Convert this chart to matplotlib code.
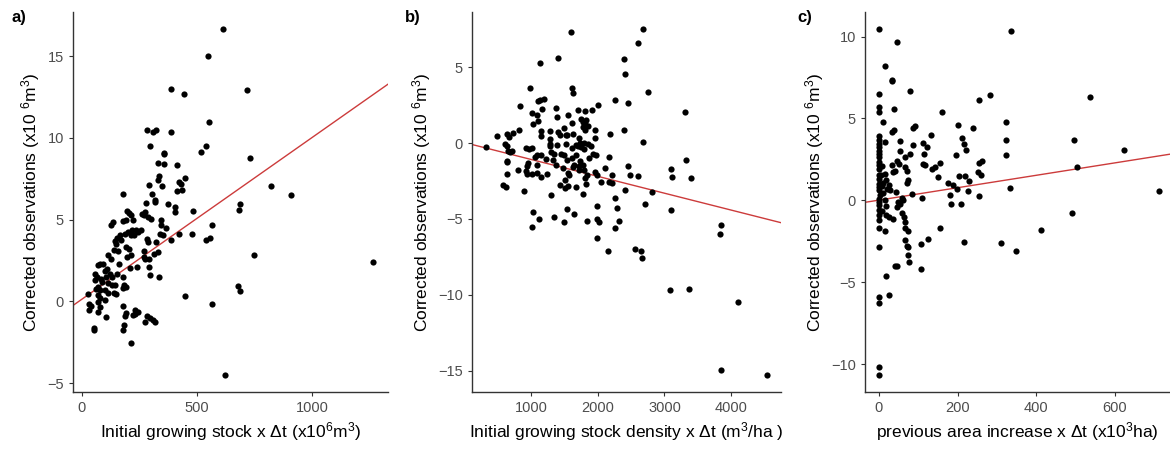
import matplotlib
matplotlib.use("Agg")
import matplotlib.pyplot as plt
import numpy as np

plt.rcParams['font.family'] = ['Liberation Sans', 'DejaVu Sans']
plt.rcParams['mathtext.fontset'] = 'custom'
plt.rcParams['mathtext.rm'] = 'Liberation Sans'
plt.rcParams['mathtext.it'] = 'Liberation Sans:italic'

# panel a: initial growing stock x dt vs corrected observations
a_x = [613, 548, 385, 443, 717, 552, 284, 323, 310, 388, 296, 519, 539, 358, 355,
       329, 355, 413, 732, 333, 329, 448, 420, 429, 413, 433, 348, 290, 306, 178,
       316, 316, 280, 820, 909, 688, 683, 374, 406, 403, 483, 197, 203, 213, 220,
       190, 177, 272, 268, 287, 300, 261, 342, 345, 135, 128, 567, 364, 219, 235,
       242, 257, 200, 186, 212, 228, 341, 351, 423, 480, 165, 152, 171, 539, 558,
       386, 283, 287, 322, 143, 148, 193, 204, 138, 157, 271, 329, 314, 748, 113,
       128, 196, 212, 268, 275, 291, 77, 68, 90, 1265, 161, 207, 239, 290, 109,
       99, 123, 130, 154, 178, 55, 65, 58, 81, 88, 103, 112, 294, 336, 132,
       145, 183, 191, 178, 71, 61, 80, 99, 114, 138, 146, 26, 680, 686, 446,
       68, 80, 32, 39, 29, 68, 77, 70, 99, 565, 178, 230, 242, 229, 191,
       188, 220, 106, 284, 296, 310, 272, 184, 178, 54, 51, 212, 620, 316]
a_y = [16.65, 15.0, 13.0, 12.67, 12.94, 10.94, 10.45, 10.5, 10.33, 10.35, 9.51, 9.12, 9.49, 9.08, 9.0,
       8.49, 8.37, 8.33, 8.76, 7.67, 7.41, 7.55, 7.31, 7.2, 6.73, 6.8, 7.04, 7.14, 6.59, 6.59,
       6.22, 6.06, 6.04, 7.06, 6.51, 5.96, 5.61, 5.94, 5.76, 5.45, 5.53, 5.53, 5.41, 5.27, 4.96,
       4.96, 4.9, 5.47, 5.31, 5.16, 5.06, 5.37, 4.98, 4.65, 4.88, 4.65, 4.65, 4.49, 4.35, 4.35,
       4.24, 4.35, 4.24, 4.14, 4.04, 4.08, 4.14, 4.04, 4.14, 4.12, 4.04, 3.88, 3.73, 3.73, 3.88,
       3.73, 3.84, 3.61, 3.63, 3.69, 3.49, 3.33, 3.22, 3.12, 3.08, 3.08, 3.02, 2.92, 2.86, 2.82,
       2.61, 2.71, 2.82, 2.71, 2.61, 2.57, 2.31, 2.24, 2.31, 2.43, 2.31, 2.04, 2.1, 2.1, 2.0,
       1.86, 1.69, 1.49, 1.65, 1.49, 1.65, 1.49, 1.33, 1.39, 1.16, 1.47, 1.12, 1.59, 1.49, 0.98,
       0.98, 0.98, 0.88, 0.84, 0.88, 0.76, 0.67, 0.67, 0.53, 0.53, 0.47, 0.47, 0.92, 0.61, 0.33,
       0.37, 0.2, -0.14, -0.31, -0.51, -0.04, -0.35, -0.65, 0.06, -0.18, -0.31, -0.51, -0.65, -0.76, -0.71,
       -0.9, -0.84, -0.96, -0.9, -1.02, -1.16, -1.27, -1.47, -1.78, -1.65, -1.78, -2.55, -4.49, -1.27]

# panel b: initial growing stock density x dt
b_x = [1591, 2672, 2607, 2387, 2402, 1396, 1130, 985, 1616, 1631, 2748, 2257, 2452, 1100, 1125,
       1185, 825, 1999, 3313, 1371, 1165, 1701, 1811, 1917, 1010, 1085, 1381, 1546, 1746, 1826,
       1776, 1806, 1611, 1025, 1100, 1776, 1846, 1801, 2397, 1486, 810, 1150, 1285, 1400, 1436,
       1631, 1956, 1956, 2182, 1541, 1516, 639, 720, 489, 1140, 669, 1280, 1716, 2672, 599,
       629, 1275, 1275, 1386, 1526, 1676, 1736, 1786, 1751, 1851, 1891, 324, 924, 970, 1005,
       1611, 1706, 1796, 644, 709, 679, 1085, 1060, 1295, 1336, 1140, 1451, 1491, 1666, 1931,
       1976, 1611, 1861, 2167, 629, 634, 1220, 1330, 1536, 1736, 945, 1085, 1376, 1646, 1721,
       1781, 2452, 935, 3094, 3319, 795, 1471, 1626, 2112, 1711, 1786, 1951, 915, 935, 1015,
       1080, 634, 1230, 1551, 1571, 1831, 1992, 2207, 2488, 2607, 3119, 3404, 1140, 1811, 1501,
       2052, 2162, 2212, 1546, 1676, 574, 619, 1816, 1426, 1511, 2402, 2818, 885, 1771, 1290,
       2252, 2708, 1987, 2292, 3094, 1536, 1025, 1641, 1346, 1486, 1120, 1987, 2012, 1836, 2317,
       3844, 1005, 2262, 3829, 1987, 2557, 2652, 2157, 2662, 3079, 3369, 4100, 3849, 4540]
b_y = [7.32, 7.49, 6.57, 5.54, 4.55, 5.6, 5.27, 3.65, 3.63, 3.32, 3.34, 2.86, 2.66, 2.77, 2.86,
       2.88, 2.46, 2.53, 2.04, 2.31, 2.22, 2.15, 2.09, 2.15, 1.98, 1.82, 1.74, 1.85, 1.56, 1.54,
       1.36, 1.23, 1.32, 1.25, 1.45, 1.05, 1.1, 0.88, 0.88, 1.01, 0.84, 0.77, 0.81, 0.73, 0.51,
       0.59, 0.84, 0.33, 0.59, 0.51, 0.51, 0.62, 0.68, 0.44, 0.44, 0.4, 0.26, 0.33, 0.07, -0.04,
       -0.2, -0.04, -0.22, -0.11, -0.04, -0.11, 0.0, 0.0, -0.26, -0.04, -0.2, -0.26, -0.33, -0.37, -0.35,
       -0.33, -0.22, -0.37, -0.55, -0.53, -0.59, -0.75, -0.9, -0.59, -0.73, -0.75, -0.73, -0.75, -0.77, -0.7,
       -0.79, -0.97, -0.95, -0.9, -1.21, -1.27, -1.03, -1.08, -1.14, -1.19, -1.34, -1.45, -1.47, -1.41, -1.49,
       -1.41, -1.52, -1.52, -1.69, -1.12, -1.8, -1.63, -1.58, -1.63, -1.76, -1.8, -1.89, -1.87, -2.02, -2.02,
       -2.0, -2.04, -2.04, -1.98, -2.13, -2.09, -2.11, -2.09, -2.07, -2.15, -2.24, -2.33, -2.24, -2.31, -2.42,
       -2.55, -2.55, -2.64, -2.81, -2.9, -2.79, -2.92, -2.68, -2.73, -2.97, -3.08, -3.25, -3.16, -3.32, -3.45,
       -3.63, -4.02, -4.13, -4.29, -4.44, -4.35, -4.51, -4.7, -4.88, -5.21, -5.03, -5.03, -5.21, -5.14, -5.14,
       -5.41, -5.52, -5.58, -5.98, -6.26, -6.97, -7.08, -7.08, -7.54, -9.69, -9.6, -10.48, -14.95, -15.27]

# panel c: previous area increase x dt
c_x = [1, 336, 47, 15, 32, 34, 78, 0, 282, 536, 254, 0, 1, 39, 161,
       11, 324, 91, 87, 201, 238, 37, 32, 0, 0, 131, 210, 497, 324, 53,
       14, 113, 0, 0, 0, 217, 121, 87, 624, 220, 53, 78, 115, 0, 67,
       197, 322, 0, 262, 47, 51, 0, 0, 0, 113, 118, 154, 33, 254, 142,
       135, 65, 504, 7, 41, 36, 70, 253, 260, 14, 151, 203, 218, 0, 0,
       5, 75, 72, 229, 18, 11, 175, 189, 26, 0, 0, 0, 7, 20, 28,
       332, 199, 226, 713, 42, 11, 3, 83, 181, 254, 110, 58, 62, 0, 0,
       0, 14, 49, 53, 184, 208, 18, 47, 0, 7, 490, 58, 0, 18, 26,
       36, 64, 0, 66, 67, 75, 0, 14, 154, 413, 125, 66, 216, 309, 106,
       70, 75, 0, 348, 75, 77, 41, 45, 108, 18, 26, 0, 0, 0, 0]
c_y = [10.47, 10.37, 9.67, 8.22, 7.35, 7.29, 6.69, 6.49, 6.41, 6.31, 6.12, 5.71, 5.39, 5.57, 5.37,
       4.8, 4.8, 4.53, 4.43, 4.63, 4.39, 4.29, 4.18, 3.92, 3.71, 3.98, 3.8, 3.69, 3.69, 3.61,
       3.57, 3.51, 3.47, 3.27, 3.02, 3.47, 3.27, 3.41, 3.06, 3.06, 3.02, 2.86, 2.84, 2.86, 2.65,
       2.78, 2.8, 2.65, 2.41, 2.41, 2.24, 2.35, 2.14, 1.94, 2.2, 2.18, 2.31, 2.14, 2.29, 2.04,
       1.9, 2.04, 2.06, 2.12, 1.82, 1.71, 1.82, 1.76, 1.57, 1.63, 1.43, 1.49, 1.49, 1.53, 1.29,
       1.53, 1.22, 1.06, 1.18, 1.22, 1.06, 1.08, 0.92, 0.92, 1.02, 0.82, 0.61, 0.86, 0.69, 0.65,
       0.78, 0.71, 0.55, 0.55, 0.51, 0.45, 0.31, 0.41, 0.31, 0.24, 0.14, 0.16, 0.04, 0.1, -0.1,
       -0.31, 0.0, -0.1, -0.24, -0.2, -0.22, -0.37, -0.41, -0.61, -0.67, -0.76, -0.76, -0.92, -0.92, -1.02,
       -1.12, -1.02, -1.22, -1.33, -1.69, -1.84, -1.71, -1.84, -1.67, -1.82, -2.33, -2.39, -2.55, -2.59, -2.65,
       -2.76, -2.86, -2.86, -3.1, -3.31, -3.78, -3.98, -3.98, -4.2, -4.63, -5.76, -5.92, -6.27, -10.2, -10.69]

# regression lines as drawn (intercept, slope)
fits = [(0.13, 0.00989), (0.03, -0.00111), (0.015, 0.00379)]

panels = [
    ("a)", a_x, a_y, (-39, 1330), (-5.55, 17.7), [0, 500, 1000], [-5, 0, 5, 10, 15],
     r"Initial growing stock x $\Delta$t (x10$^{6}$m$^{3}$)"),
    ("b)", b_x, b_y, (109, 4751), (-16.4, 8.64), [1000, 2000, 3000, 4000], [-15, -10, -5, 0, 5],
     r"Initial growing stock density x $\Delta$t (m$^{3}$/ha )"),
    ("c)", c_x, c_y, (-35.6, 740), (-11.7, 11.5), [0, 200, 400, 600], [-10, -5, 0, 5, 10],
     r"previous area increase x $\Delta$t (x10$^{3}$ha)"),
]
boxes = [(73, 315), (472, 309), (865, 305)]
label_x = [12, 405, 797]

fig = plt.figure(figsize=(11.7, 4.5), dpi=100)
for i, (tag, xs, ys, xl, yl, xt, yt, xlab) in enumerate(panels):
    left, w = boxes[i]
    ax = fig.add_axes([left / 1170, 58 / 450, w / 1170, 380 / 450])
    ax.scatter(xs, ys, s=20, color='black', linewidths=0, zorder=3)
    b0, b1 = fits[i]
    lx = np.array(xl)
    ax.plot(lx, b0 + b1 * lx, color='#cc3b3b', lw=1.0, zorder=2)
    ax.set_xlim(xl)
    ax.set_ylim(yl)
    ax.set_xticks(xt)
    ax.set_yticks(yt)
    for s in ['top', 'right']:
        ax.spines[s].set_visible(False)
    for s in ['left', 'bottom']:
        ax.spines[s].set_color('#333333')
        ax.spines[s].set_linewidth(1.0)
    ax.tick_params(colors='#333333', labelcolor='#4d4d4d', labelsize=10.5, length=3, width=0.8)
    ax.set_xlabel(xlab, fontsize=12.5, labelpad=4)
    ax.set_ylabel(r"Corrected observations (x10 $^{6}$m$^{3}$)", fontsize=12.5, labelpad=4)
    fig.text(label_x[i] / 1170, 1 - 22 / 450, tag, fontsize=12, fontweight='bold')

fig.savefig("out.png", dpi=100)
